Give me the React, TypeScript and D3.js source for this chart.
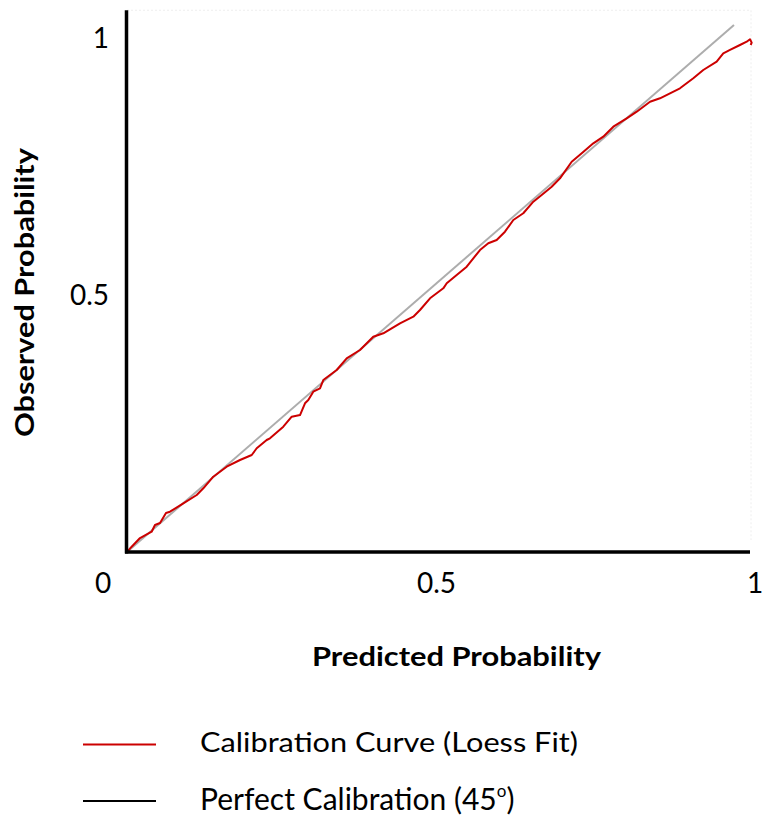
import React from "react";
import * as d3 from "d3";

// Calibration curve (loess fit): [predicted, observed]
const calibPredicted = [
  0, 0.0075, 0.0209, 0.0396, 0.0449, 0.053, 0.0626, 0.069, 0.0904, 0.1119, 0.1225, 0.1385,
  0.16, 0.1814, 0.2002, 0.2082, 0.2242, 0.2295, 0.2509, 0.2644, 0.2777, 0.2857, 0.291, 0.299,
  0.3098, 0.3151, 0.3366, 0.3526, 0.374, 0.3953, 0.4114, 0.4382, 0.4596, 0.4703, 0.4864,
  0.5077, 0.5132, 0.5292, 0.5453, 0.5666, 0.5799, 0.5934, 0.6067, 0.6201, 0.6361, 0.6522,
  0.6656, 0.6817, 0.695, 0.7138, 0.7299, 0.7485, 0.7645, 0.7806, 0.8021, 0.8182, 0.8395,
  0.8555, 0.8716, 0.8876, 0.909, 0.925, 0.9465, 0.9571, 0.9679, 0.9839, 0.9947, 1.0,
  1.0027, 1.0011,
];
const calibObserved = [
  0, 0.0103, 0.0272, 0.0395, 0.0525, 0.0564, 0.0759, 0.0784, 0.0947, 0.1109, 0.1239, 0.1465,
  0.166, 0.179, 0.1887, 0.2018, 0.2179, 0.2212, 0.2438, 0.2632, 0.2665, 0.2893, 0.2957, 0.3119,
  0.3185, 0.3346, 0.3541, 0.3768, 0.393, 0.4189, 0.4255, 0.4449, 0.4578, 0.4708, 0.4936,
  0.513, 0.5228, 0.5389, 0.5551, 0.5875, 0.6006, 0.607, 0.6232, 0.6459, 0.659, 0.6815,
  0.6946, 0.7107, 0.727, 0.7593, 0.7757, 0.7951, 0.808, 0.8274, 0.8438, 0.8566, 0.8761,
  0.8827, 0.8924, 0.9021, 0.9216, 0.9377, 0.9539, 0.9702, 0.9767, 0.9864, 0.9928, 0.9975,
  0.9909, 0.9864,
];

// Reference line as drawn in the chart: start and end
const perfectPredicted = [0, 0.9743];
const perfectObserved = [0, 1.0253];

const yTickValues = [0.5, 1];
const yTickLabels = ["0.5", "1"];
const xTickValues = [0.5, 1];
const xTickLabels = ["0.5", "1"];
const originLabel = "0";

const xTitle = "Predicted Probability";
const yTitle = "Observed Probability";
const legendLabels = ["Calibration Curve (Loess Fit)", "Perfect Calibration (45"];

const Y_TOP = 1.054;

export default function App() {
  const x = d3.scaleLinear().domain([0, 1]).range([127, 750]);
  const y = d3.scaleLinear().domain([0, 1]).range([552, 38]);

  const line = d3
    .line<number>()
    .x((_, i) => x(calibPredicted[i]))
    .y((d) => y(d))
    .curve(d3.curveLinear);
  const redPath = line(calibObserved) || "";

  const grayPath =
    d3
      .line<number>()
      .x((_, i) => x(perfectPredicted[i]))
      .y((d) => y(d))(perfectObserved) || "";

  const font = "Lato, 'Open Sans', sans-serif";

  return (
    <svg
      width={762}
      height={816}
      style={{ position: "absolute", left: 0, top: 0, background: "#fff" }}
    >
      {/* faint plot border */}
      <line x1={x(0)} x2={x(1) + 1} y1={y(Y_TOP)} y2={y(Y_TOP)} stroke="#eeeeee" strokeWidth={1} strokeDasharray="2,2" />
      <line x1={x(1) + 1} x2={x(1) + 1} y1={y(Y_TOP)} y2={y(0) - 12} stroke="#eeeeee" strokeWidth={1} strokeDasharray="2,2" />

      {/* perfect calibration */}
      <path d={grayPath} fill="none" stroke="#adadad" strokeWidth={2} />
      {/* calibration curve */}
      <path d={redPath} fill="none" stroke="#cc0000" strokeWidth={2} strokeLinejoin="round" />

      {/* axes */}
      <line x1={x(0) - 0.5} x2={x(0) - 0.5} y1={y(Y_TOP)} y2={y(0) + 1.5} stroke="#000" strokeWidth={3.5} />
      <line x1={x(0) - 2} x2={x(1)} y1={y(0)} y2={y(0)} stroke="#000" strokeWidth={3.5} />

      {/* y tick labels */}
      {yTickValues.map((v, i) => (
        <text key={"y" + i} x={109} y={y(v) + 10} textAnchor="end" fontFamily={font} fontSize={28} fill="#000">
          {yTickLabels[i]}
        </text>
      ))}
      <text x={103} y={593} textAnchor="middle" fontFamily={font} fontSize={28} fill="#000">
        {originLabel}
      </text>
      {/* x tick labels */}
      {xTickValues.map((v, i) => (
        <text key={"x" + i} x={x(v) + (v === 1 ? 5 : -2)} y={593} textAnchor="middle" fontFamily={font} fontSize={28} fill="#000">
          {xTickLabels[i]}
        </text>
      ))}

      {/* axis titles */}
      <text
        x={456.5}
        y={666}
        textAnchor="middle"
        fontFamily={font}
        fontWeight="bold"
        fontSize={26}
        textLength={289}
        lengthAdjust="spacingAndGlyphs"
        fill="#000"
      >
        {xTitle}
      </text>
      <text
        transform="translate(34,292.5) rotate(-90)"
        textAnchor="middle"
        fontFamily={font}
        fontWeight="bold"
        fontSize={26}
        textLength={289}
        lengthAdjust="spacingAndGlyphs"
        fill="#000"
      >
        {yTitle}
      </text>

      {/* legend */}
      <line x1={83} x2={156} y1={744.5} y2={744.5} stroke="#cc0000" strokeWidth={2} />
      <text x={200} y={752} fontFamily={font} fontSize={27} textLength={378} lengthAdjust="spacingAndGlyphs" fill="#000">
        {legendLabels[0]}
      </text>
      <line x1={83} x2={156} y1={801} y2={801} stroke="#000" strokeWidth={2} />
      <text x={200} y={810} fontFamily={font} fontSize={30} fill="#000">
        {legendLabels[1]}
        <tspan fontSize={17} dy={-13}>o</tspan>
        <tspan dy={13}>)</tspan>
      </text>
    </svg>
  );
}
